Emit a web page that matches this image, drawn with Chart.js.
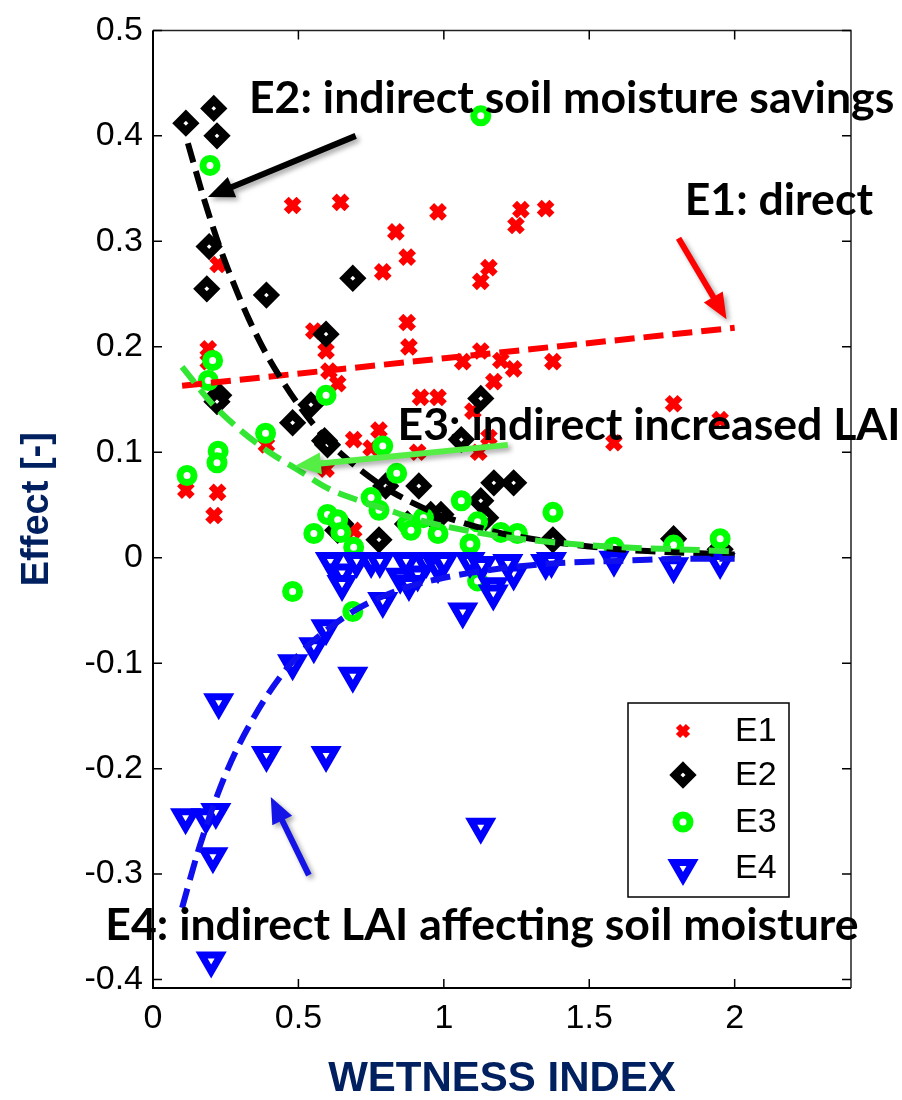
<!DOCTYPE html>
<html><head><meta charset="utf-8">
<script src="https://cdn.jsdelivr.net/npm/chart.js@4.4.0/dist/chart.umd.min.js"></script>
<style>html,body{margin:0;padding:0;background:#fff;}canvas{display:block;}</style>
</head><body>
<canvas id="c" width="902" height="1100"></canvas>
<script>
// ---------- data ----------
const e1X = [0.113,0.222,0.21,0.19,0.19,0.224,0.48,0.645,0.98,0.835,0.874,0.79,0.874,0.88,0.553,0.595,0.605,0.635,0.92,0.98,1.265,1.35,1.248,1.155,1.127,1.127,1.065,1.196,1.24,1.375,1.172,0.69,0.777,0.75,0.91,0.595,0.39,0.69,1.10,1.155,1.12,1.585,1.79,1.95];
const e1Y = [0.064,0.062,0.040,0.198,0.186,0.278,0.334,0.337,0.328,0.309,0.285,0.271,0.223,0.200,0.215,0.196,0.177,0.165,0.152,0.152,0.330,0.331,0.315,0.275,0.262,0.196,0.186,0.187,0.179,0.186,0.167,0.112,0.121,0.104,0.100,0.084,0.107,0.026,0.139,0.114,0.100,0.109,0.146,0.131];

const e2X = [0.113,0.209,0.22,0.193,0.185,0.39,0.687,0.595,0.226,0.22,0.48,0.543,0.59,0.60,0.80,0.914,0.635,0.646,0.777,0.875,0.955,1.127,1.06,1.172,1.24,1.127,1.144,0.99,1.375,1.79,1.95];
const e2Y = [0.412,0.426,0.400,0.295,0.255,0.249,0.265,0.212,0.154,0.148,0.128,0.145,0.111,0.107,0.068,0.068,0.026,0.032,0.017,0.032,0.041,0.151,0.112,0.071,0.071,0.054,0.038,0.041,0.017,0.018,0.008];

const e3X = [0.196,1.127,0.205,0.19,0.595,0.387,0.117,0.224,0.22,0.79,0.838,0.75,0.777,0.60,0.635,0.646,0.553,0.69,0.875,0.887,0.93,0.98,0.48,1.06,1.116,1.375,1.196,1.253,1.09,1.585,1.79,1.95,1.116,0.687];
const e3Y = [0.372,0.419,0.187,0.168,0.154,0.118,0.078,0.101,0.090,0.106,0.080,0.057,0.045,0.041,0.036,0.024,0.023,0.010,0.032,0.026,0.038,0.023,-0.032,0.054,0.034,0.043,0.024,0.023,0.013,0.010,0.012,0.018,-0.022,-0.051];

const e4X = [0.61,0.65,0.65,0.70,0.75,0.78,0.87,0.94,0.85,0.91,0.88,0.98,1.0,1.09,1.13,1.17,1.17,1.24,1.22,1.35,1.37,1.585,1.79,1.95,1.065,0.79,0.595,0.553,0.48,0.687,0.226,0.39,0.595,0.112,0.182,0.216,0.206,0.2,1.127];
const e4Y = [-0.003,-0.014,-0.025,-0.003,-0.003,-0.003,-0.003,-0.003,-0.018,-0.016,-0.025,-0.008,-0.003,-0.003,-0.007,-0.027,-0.034,-0.015,-0.005,-0.005,-0.003,-0.002,-0.008,-0.004,-0.051,-0.041,-0.067,-0.084,-0.100,-0.112,-0.137,-0.187,-0.187,-0.246,-0.246,-0.241,-0.283,-0.382,-0.255];

// fitted trend lines
const fit1X = [0.1, 2.0];
const fit1Y = [0.163, 0.218];
const fit2X = [0.12,0.17,0.22,0.27,0.33,0.4,0.5,0.6,0.7,0.8,0.9,1.0,1.2,1.4,1.6,1.8,2.0];
const fit2Y = [0.393,0.345,0.302,0.265,0.226,0.188,0.145,0.111,0.086,0.066,0.051,0.039,0.023,0.014,0.008,0.005,0.003];
const fit3X = [0.1,0.2,0.3,0.4,0.5,0.6,0.7,0.8,0.9,1.0,1.2,1.4,1.6,1.8,2.0];
const fit3Y = [0.181,0.147,0.121,0.100,0.083,0.066,0.055,0.046,0.037,0.030,0.020,0.014,0.010,0.008,0.006];
const fit4X = [0.1,0.15,0.2,0.25,0.3,0.38,0.46,0.55,0.7,0.85,1.0,1.2,1.4,1.6,1.8,2.0];
const fit4Y = [-0.332,-0.283,-0.241,-0.205,-0.175,-0.136,-0.105,-0.079,-0.049,-0.030,-0.019,-0.010,-0.005,-0.003,-0.001,-0.001];

const seriesNames = ['E1','E2','E3','E4'];
const xTickValues = [0, 0.5, 1, 1.5, 2];
const yTickValues = [-0.4,-0.3,-0.2,-0.1,0,0.1,0.2,0.3,0.4,0.5];

const annText = [
  {text:'E2: indirect soil moisture savings', x:0.33, y:0.4216},
  {text:'E1: direct', x:1.828, y:0.325},
  {text:'E3: indirect increased LAI', x:0.841, y:0.1117},
  {text:'E4: indirect LAI affecting soil moisture', x:-0.164, y:-0.3624}
];
const annArrows = [
  {x0:0.697, y0:0.400, x1:0.189, y1:0.342, color:'#000000'},
  {x0:1.807, y0:0.303, x1:1.972, y1:0.226, color:'#ff0000'},
  {x0:1.22,  y0:0.107, x1:0.488, y1:0.087, color:'#55ee45'},
  {x0:0.536, y0:-0.301, x1:0.405, y1:-0.227, color:'#1414e6'}
];

function pts(xs, ys){ return xs.map((v,i)=>({x:v, y:ys[i]})); }

// ---------- helpers ----------
function drawArrow(ctx,x0,y0,x1,y1,color,lw,hl,hw){
  const a=Math.atan2(y1-y0,x1-x0);
  const bx=x1-Math.cos(a)*hl, by=y1-Math.sin(a)*hl;
  ctx.save();
  ctx.shadowColor='rgba(0,0,0,0.35)'; ctx.shadowBlur=5; ctx.shadowOffsetX=3; ctx.shadowOffsetY=3;
  ctx.fillStyle=color;
  ctx.beginPath();
  const px=Math.sin(a), py=-Math.cos(a);
  ctx.moveTo(x0+px*lw/2, y0+py*lw/2);
  ctx.lineTo(bx+px*lw/2, by+py*lw/2);
  ctx.lineTo(bx+px*hw/2, by+py*hw/2);
  ctx.lineTo(x1,y1);
  ctx.lineTo(bx-px*hw/2, by-py*hw/2);
  ctx.lineTo(bx-px*lw/2, by-py*lw/2);
  ctx.lineTo(x0-px*lw/2, y0-py*lw/2);
  ctx.closePath(); ctx.fill();
  ctx.restore();
}
function legendMarker(ctx,kind,cx,cy){
  ctx.save();
  ctx.lineJoin='miter';
  if(kind===0){
    ctx.strokeStyle='#ff0000'; ctx.lineWidth=6; const d=5;
    ctx.beginPath(); ctx.moveTo(cx-d,cy-d); ctx.lineTo(cx+d,cy+d); ctx.moveTo(cx+d,cy-d); ctx.lineTo(cx-d,cy+d); ctx.stroke();
  } else if(kind===1){
    const r=8; ctx.strokeStyle='#000'; ctx.fillStyle='#fff'; ctx.lineWidth=8;
    ctx.beginPath(); ctx.moveTo(cx,cy-r); ctx.lineTo(cx+r,cy); ctx.lineTo(cx,cy+r); ctx.lineTo(cx-r,cy); ctx.closePath(); ctx.fill(); ctx.stroke();
  } else if(kind===2){
    ctx.strokeStyle='#00ff00'; ctx.fillStyle='#fff'; ctx.lineWidth=7;
    ctx.beginPath(); ctx.arc(cx,cy,7,0,Math.PI*2); ctx.fill(); ctx.stroke();
  } else {
    const r=11; ctx.strokeStyle='#0000ff'; ctx.fillStyle='#fff'; ctx.lineWidth=7;
    ctx.beginPath();
    for(let k=0;k<3;k++){ const ang=Math.PI+k*2*Math.PI/3; const X=cx+Math.sin(ang)*r, Y=cy-Math.cos(ang)*r; if(k===0)ctx.moveTo(X,Y); else ctx.lineTo(X,Y);} 
    ctx.closePath(); ctx.fill(); ctx.stroke();
  }
  ctx.restore();
}

const overlay = {
  id:'overlay',
  afterDraw(chart){
    const {ctx, chartArea:ca, scales:{x,y}} = chart;
    ctx.save();
    // frame
    ctx.strokeStyle='#000'; ctx.lineWidth=2;
    ctx.beginPath(); ctx.moveTo(ca.left,ca.top); ctx.lineTo(ca.left,ca.bottom); ctx.lineTo(ca.right,ca.bottom); ctx.stroke();
    ctx.strokeStyle='#222'; ctx.lineWidth=1.5;
    ctx.beginPath(); ctx.moveTo(ca.left,ca.top); ctx.lineTo(ca.right,ca.top); ctx.lineTo(ca.right,ca.bottom); ctx.stroke();
    // inward ticks
    ctx.lineWidth=1.5; ctx.strokeStyle='#000';
    const tl=9;
    xTickValues.forEach(v=>{const p=x.getPixelForValue(v); ctx.beginPath(); ctx.moveTo(p,ca.bottom); ctx.lineTo(p,ca.bottom-tl); ctx.moveTo(p,ca.top); ctx.lineTo(p,ca.top+tl); ctx.stroke();});
    yTickValues.forEach(v=>{const p=y.getPixelForValue(v); ctx.beginPath(); ctx.moveTo(ca.left,p); ctx.lineTo(ca.left+tl,p); ctx.moveTo(ca.right,p); ctx.lineTo(ca.right-tl,p); ctx.stroke();});
    // arrows
    annArrows.forEach(a=>drawArrow(ctx,x.getPixelForValue(a.x0),y.getPixelForValue(a.y0),x.getPixelForValue(a.x1),y.getPixelForValue(a.y1),a.color,6,26,22));
    // annotation texts
    ctx.font='bold 100px Lato';
    const w100=ctx.measureText(annText[0].text).width;
    const fs=100*645/w100;
    ctx.font='bold '+fs.toFixed(1)+'px Lato';
    ctx.fillStyle='#000'; ctx.textAlign='left'; ctx.textBaseline='alphabetic';
    annText.forEach(t=>ctx.fillText(t.text, x.getPixelForValue(t.x), y.getPixelForValue(t.y)));
    // legend
    const lx=628, ly=703, lw=161, lh=194;
    ctx.fillStyle='#fff'; ctx.fillRect(lx,ly,lw,lh);
    ctx.strokeStyle='#000'; ctx.lineWidth=1.5; ctx.strokeRect(lx,ly,lw,lh);
    const rows=[731,775,822,868];
    ctx.font='34px "Liberation Sans", Arial, sans-serif'; ctx.fillStyle='#000'; ctx.textBaseline='middle';
    seriesNames.forEach((n,i)=>{ legendMarker(ctx,i,683,rows[i]); ctx.fillText(n,735,rows[i]+1); });
    ctx.restore();
  }
};

const tickFont = {family:'"Liberation Sans", Arial, sans-serif', size:34};
const navy = '#002060';

new Chart(document.getElementById('c'), {
  type:'scatter',
  data:{ datasets:[
    {label:'E1', data:pts(e1X,e1Y), pointStyle:'crossRot', pointRadius:9, pointBorderWidth:7, borderColor:'#ff0000', backgroundColor:'#ff0000', order:7},
    {label:'E2', data:pts(e2X,e2Y), pointStyle:'rectRot', pointRadius:8, pointBorderWidth:8, borderColor:'#000000', backgroundColor:'#ffffff', order:6},
    {label:'E3', data:pts(e3X,e3Y), pointStyle:'circle', pointRadius:7, pointBorderWidth:7, borderColor:'#00ff00', backgroundColor:'#ffffff', order:5},
    {label:'E4', data:pts(e4X,e4Y), pointStyle:'triangle', pointRotation:180, pointRadius:11, pointBorderWidth:7, borderColor:'#0000ff', backgroundColor:'#ffffff', order:4},
    {label:'fit1', data:pts(fit1X,fit1Y), showLine:true, pointRadius:0, borderColor:'#ff0000', borderWidth:6, borderDash:[20,9], order:3},
    {label:'fit2', data:pts(fit2X,fit2Y), showLine:true, pointRadius:0, borderColor:'#000000', borderWidth:6, borderDash:[20,9], tension:0.3, order:2},
    {label:'fit3', data:pts(fit3X,fit3Y), showLine:true, pointRadius:0, borderColor:'#33e633', borderWidth:6, borderDash:[20,9], tension:0.3, order:1},
    {label:'fit4', data:pts(fit4X,fit4Y), showLine:true, pointRadius:0, borderColor:'#1010ee', borderWidth:6, borderDash:[20,9], tension:0.3, order:0}
  ]},
  options:{
    responsive:false, animation:false, devicePixelRatio:1,
    layout:{padding:{top:27,right:51,left:0,bottom:0}},
    plugins:{legend:{display:false}, tooltip:{enabled:false}},
    scales:{
      x:{type:'linear', min:0, max:2.4,
        ticks:{stepSize:0.5, includeBounds:false, font:tickFont, color:'#000', padding:10, maxRotation:0, autoSkip:false,
          callback:v=>String(Number(v.toFixed(1)))},
        grid:{display:false, drawTicks:false}, border:{display:false},
        title:{display:true, text:'WETNESS INDEX', color:navy, font:{family:'"Liberation Sans", Arial, sans-serif', size:42, weight:'bold', lineHeight:1}, padding:{top:0,bottom:0}},
        afterFit(s){ s.height = 112; }
      },
      y:{type:'linear', min:-0.408, max:0.5,
        ticks:{stepSize:0.1, includeBounds:false, font:tickFont, color:'#000', padding:10, autoSkip:false,
          callback:v=>String(Number(v.toFixed(1)))},
        grid:{display:false, drawTicks:false}, border:{display:false},
        title:{display:true, text:'Effect [-]', color:navy, font:{family:'"Liberation Sans", Arial, sans-serif', size:38, weight:'bold', lineHeight:1}, padding:{top:19,bottom:0}},
        afterFit(s){ s.width = 153; }
      }
    }
  },
  plugins:[overlay]
});
</script></body></html>
